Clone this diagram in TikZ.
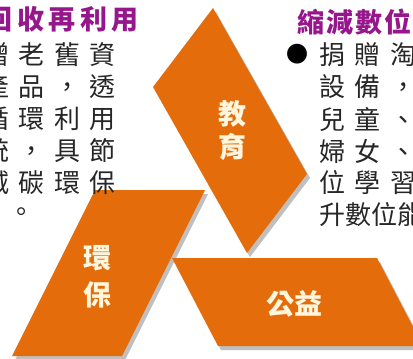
\documentclass[tikz,border=0pt]{standalone}
\usepackage{fontspec}
\usetikzlibrary{shadows}
\newfontfamily\cjk{Noto Sans CJK TC}
\definecolor{ribbon}{RGB}{228,108,10}
\definecolor{headpurple}{RGB}{150,22,140}
\definecolor{labelcream}{RGB}{255,246,222}
\newcommand{\cc}[1]{\makebox[35.5pt]{#1}}
\newcommand{\hl}[1]{\makebox[31.5pt]{#1}}
\newcommand{\hr}[1]{\makebox[29pt]{#1}}

\begin{document}
\begin{tikzpicture}[x=1pt, y=-1pt,
    slab/.style={fill=ribbon,
                 drop shadow={shadow xshift=3pt, shadow yshift=-4pt, fill=black, opacity=.25}},
    tag/.style={text=labelcream, font=\cjk\bfseries\fontsize{28}{33}\selectfont,
                align=center, inner sep=0pt},
    head/.style={text=headpurple, font=\cjk\bfseries\fontsize{27}{30}\selectfont,
                 anchor=west, inner sep=0pt},
    body/.style={text=black!85, font=\cjk\fontsize{26}{32}\selectfont,
                 anchor=west, inner sep=0pt}
]
\useasboundingbox (0,0) rectangle (413,359);
\clip (0,0) rectangle (413,359);

\fill[slab] (213,8) -- (307,174) -- (247,253) -- (153,87) -- cycle;
\fill[slab] (95,190) -- (205,190) -- (122,356) -- (12,356) -- cycle;
\fill[slab] (172,258) -- (377,258) -- (423,346) -- (218,346) -- cycle;

\node[tag] (edu) at (232,131) {教\\育};
\node[tag] (env) at (97,277) {環\\[4pt]保};
\node[tag] (pub) at (294,304) {公益};

\node[head] (lefthead) at (-16.75,19) {\hl{回}\hl{收}\hl{再}\hl{利}\hl{用}};
\node[body] (l1) at (-21.75,55) {\cc{贈}\cc{老}\cc{舊}\cc{資}};
\node[body] (l2) at (-21.75,87) {\cc{產}\cc{品}\cc{，}\cc{透}};
\node[body] (l3) at (-21.75,119) {\cc{循}\cc{環}\cc{利}\cc{用}};
\node[body] (l4) at (-21.75,151) {\cc{統}\cc{，}\cc{具}\cc{節}};
\node[body] (l5) at (-21.75,183) {\cc{減}\cc{碳}\cc{環}\cc{保}};
\node[body] (l6) at (8,215) {。};

\node[head] (righthead) at (296.5,22) {\hr{縮}\hr{減}\hr{數}\hr{位}};
\node[text=black, font=\cjk\fontsize{22}{26}\selectfont, inner sep=0pt] (dot) at (297,54) {●};
\node[body] (r1) at (314.25,55) {\cc{捐}\cc{贈}\cc{淘}};
\node[body] (r2) at (314.25,87) {\cc{設}\cc{備}\cc{，}};
\node[body] (r3) at (314.25,119) {\cc{兒}\cc{童}\cc{、}};
\node[body] (r4) at (314.25,151) {\cc{婦}\cc{女}\cc{、}};
\node[body] (r5) at (314.25,183) {\cc{位}\cc{學}\cc{習}};
\node[body] (r6) at (319,215) {升數位能};
\end{tikzpicture}
\end{document}
